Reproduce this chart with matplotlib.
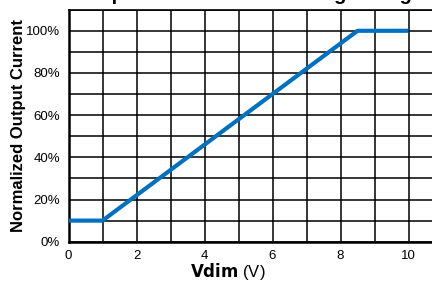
import numpy as np
import matplotlib
matplotlib.use('Agg')
import matplotlib.pyplot as plt
from matplotlib.ticker import MultipleLocator, FuncFormatter

plt.rcParams['font.family'] = ['Liberation Sans', 'DejaVu Sans']

# dimming curve
vdim = [0, 1, 8.5, 10]
current = [10, 10, 100, 100]

x_ticks = [0, 2, 4, 6, 8, 10]
y_ticks = [0, 20, 40, 60, 80, 100]

fig = plt.figure(figsize=(4.32, 2.85), dpi=100)
# axes runs past the right edge, the source picture is cropped there
ax = fig.add_axes([68.5/432, 43.3/285, 374/432, 232/285])

ax.plot(vdim, current, color='#0070C0', linewidth=3.0, solid_capstyle='butt', zorder=3)

ax.set_xlim(0, 11)
ax.set_ylim(0, 110)
ax.set_xticks(x_ticks)
ax.set_yticks(y_ticks)
ax.xaxis.set_minor_locator(MultipleLocator(1))
ax.yaxis.set_minor_locator(MultipleLocator(10))
ax.yaxis.set_major_formatter(FuncFormatter(lambda v, p: f'{v:.0f}%'))
ax.grid(which='both', color='black', linewidth=1.1)
ax.set_axisbelow(True)
ax.tick_params(which='both', length=0)
ax.tick_params(axis='y', pad=6, labelsize=9.5)
ax.tick_params(axis='x', pad=6, labelsize=9.5)

for s in ['left', 'bottom']:
    ax.spines[s].set_linewidth(1.8)
for s in ['top', 'right']:
    ax.spines[s].set_linewidth(1.2)

ax.set_ylabel('Normalized Output Current', fontsize=12, fontweight='bold', va='center')
ax.yaxis.set_label_coords(-0.1324, 0.5)
ax.set_xlabel(r'$\bf{Vdim}$ (V)', fontsize=12, va='center')
ax.xaxis.set_label_coords(0.4255, -0.128)

# title is mostly cut off at the top of the source image
fig.text(77/432, 1 + 0.5/285, 'Output Current vs. Dimming Voltage',
         fontsize=14.5, fontweight='bold', ha='left', va='baseline')

fig.savefig('out.png', dpi=100)
